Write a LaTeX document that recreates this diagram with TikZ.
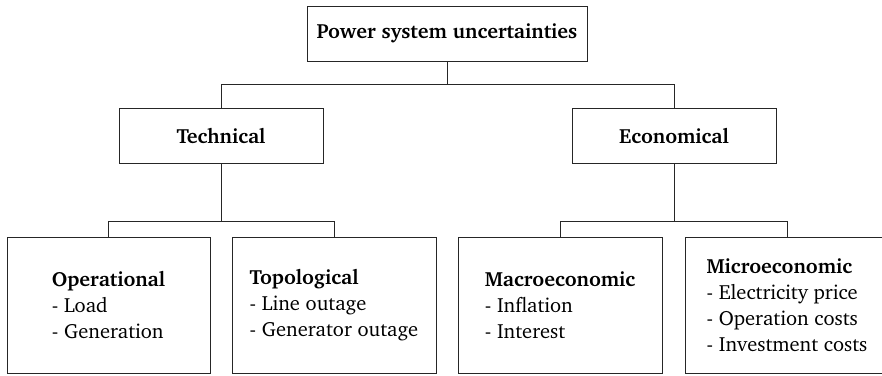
\documentclass[tikz,border=0pt]{standalone}
\usepackage[T1]{fontenc}
\usepackage{charter}
\begin{document}
\begin{tikzpicture}[x=1pt,y=-1pt,
  box/.style={draw=black!85,line width=1pt,rectangle,inner sep=0pt,align=left,
    font=\fontsize{20.5}{26}\selectfont},
  wire/.style={draw=black!85,line width=1pt}]
\useasboundingbox (0,0) rectangle (882,375);
\node[box,minimum width=280pt,minimum height=55pt] (top) at (447,33.5) {\textbf{Power system uncertainties}};
\node[box,minimum width=204pt,minimum height=55pt] (tech) at (221,135.5) {\textbf{Technical}};
\node[box,minimum width=204pt,minimum height=55pt] (econ) at (674,135.5) {\textbf{Economical}};
\node[box,minimum width=203pt,minimum height=136pt] (oper) at (108.5,305) {\textbf{Operational}\\- Load\\- Generation};
\node[box,minimum width=204pt,minimum height=136pt] (topo) at (334,305) {\textbf{Topological}\\- Line outage\\- Generator outage};
\node[box,minimum width=204pt,minimum height=136pt] (macro) at (560,305) {\textbf{Macroeconomic}\\- Inflation\\- Interest};
\node[box,minimum width=204pt,minimum height=136pt] (micro) at (787,305) {\textbf{Microeconomic}\\- Electricity price\\- Operation costs\\- Investment costs};
\draw[wire] (top.south) -- ++(0,23) -| (tech.north);
\draw[wire] (top.south) -- ++(0,23) -| (econ.north);
\draw[wire] (tech.south) -- ++(0,58) -| (oper.north);
\draw[wire] (tech.south) -- ++(0,58) -| (topo.north);
\draw[wire] (econ.south) -- ++(0,58) -| (macro.north);
\draw[wire] (econ.south) -- ++(0,58) -| (micro.north);
\end{tikzpicture}
\end{document}
